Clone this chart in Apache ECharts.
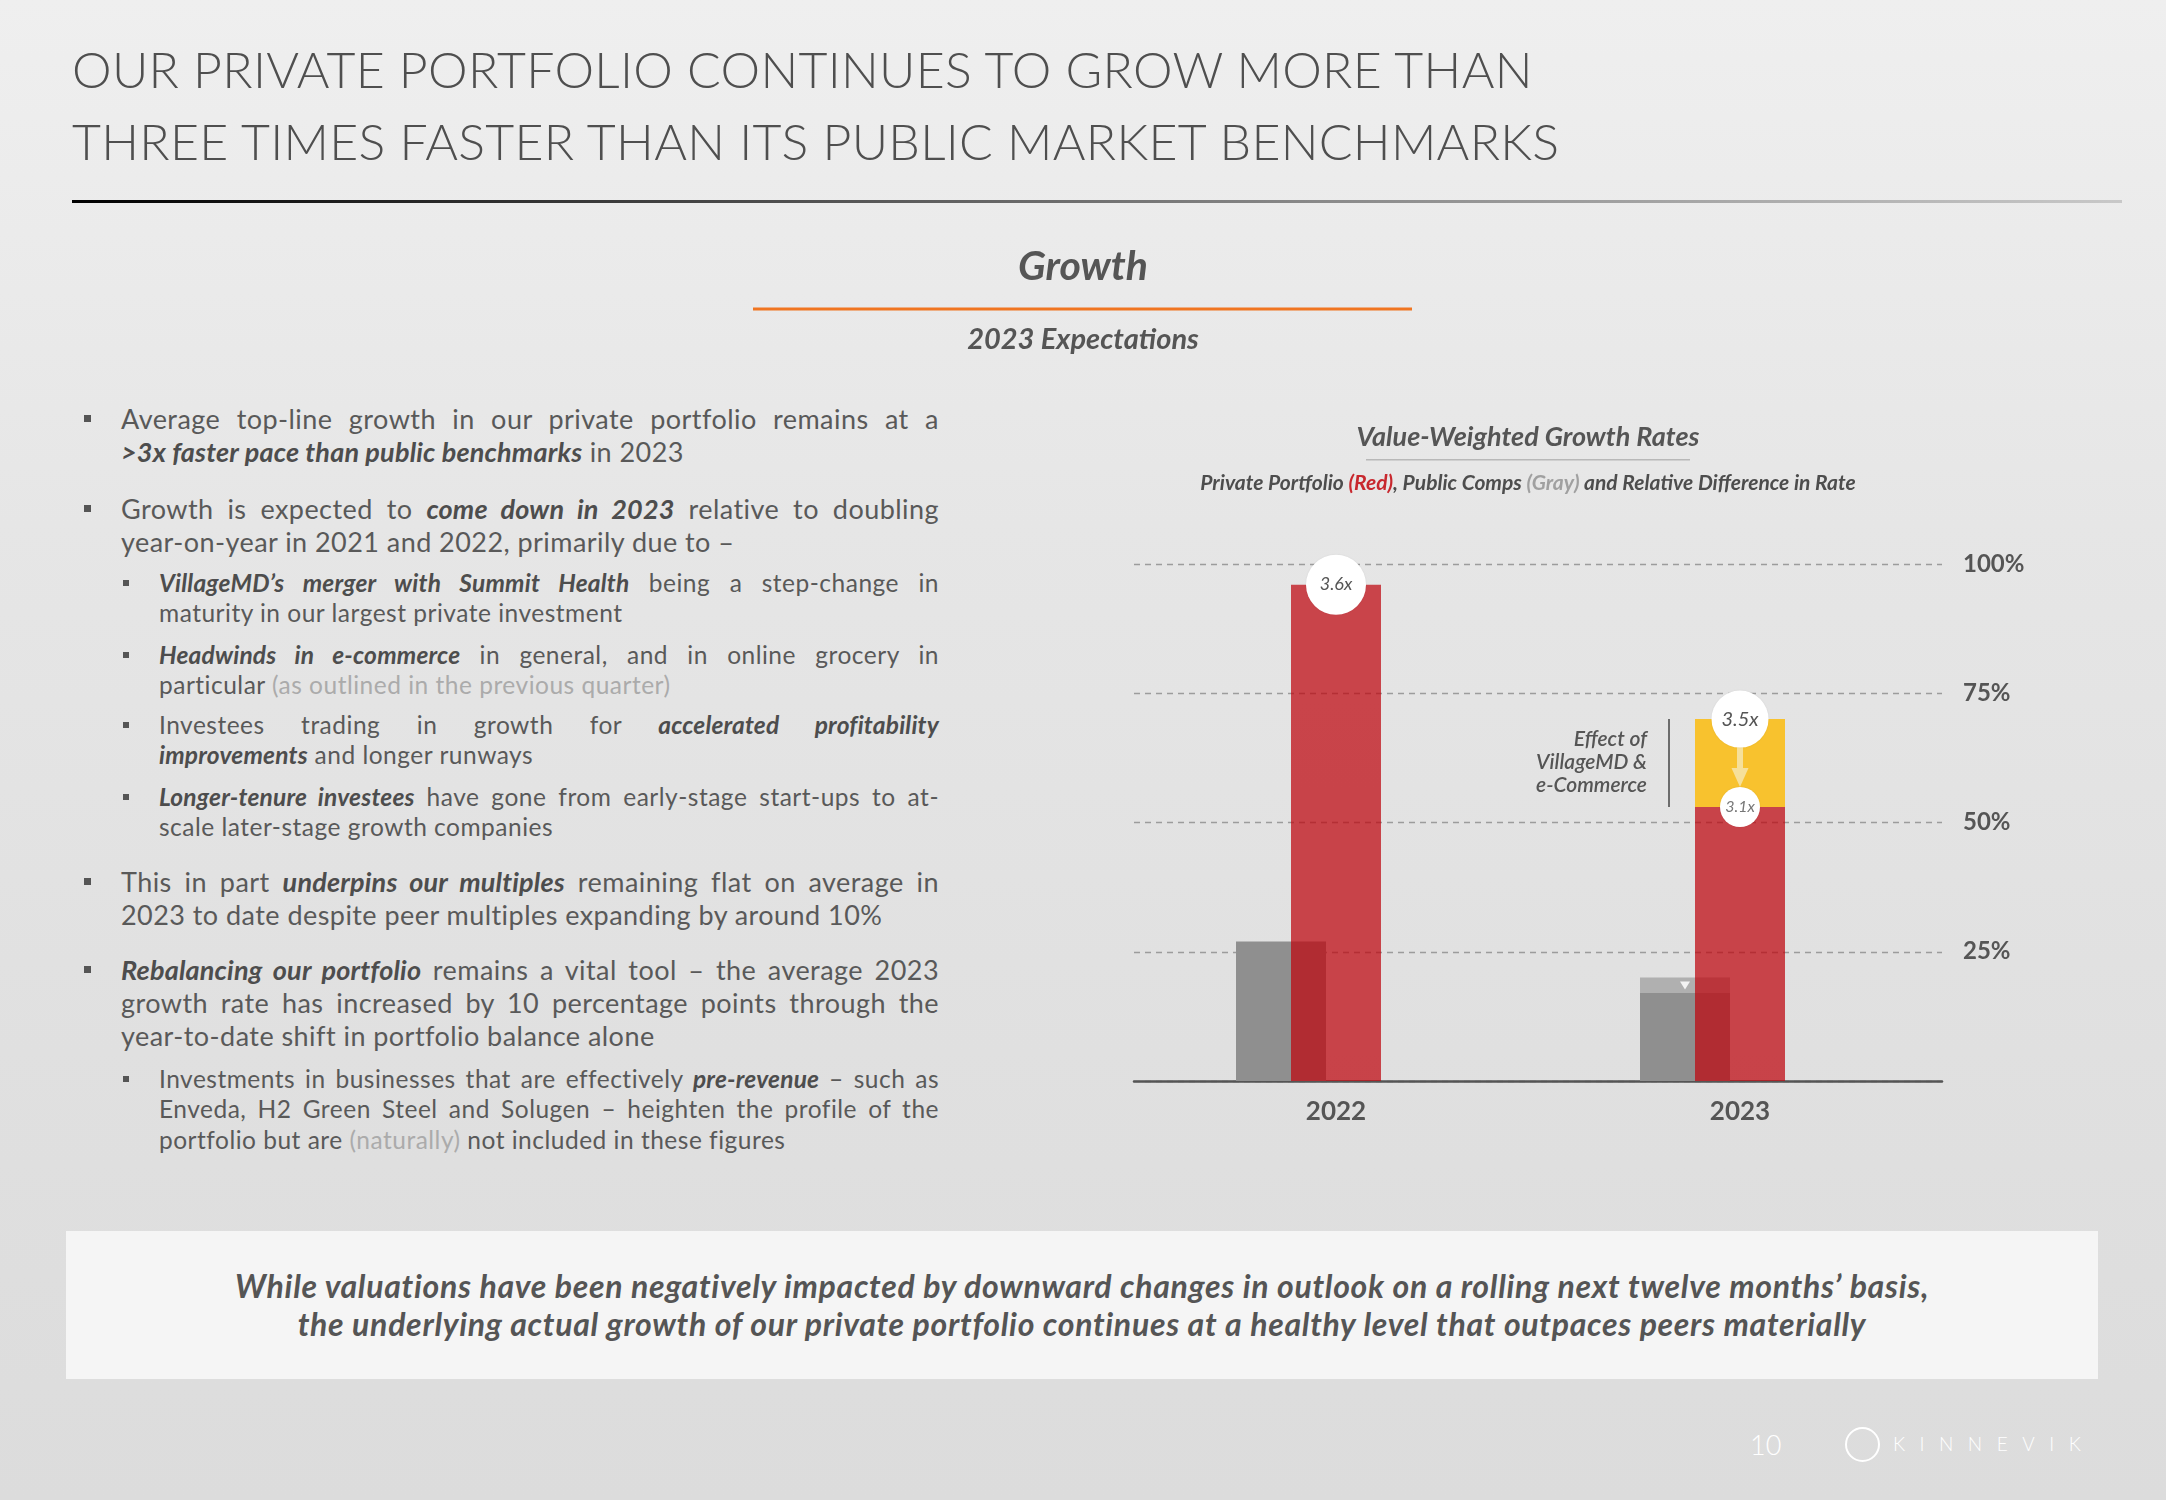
<!DOCTYPE html>
<html><head><meta charset="utf-8">
<script src="https://cdn.jsdelivr.net/npm/echarts@6/dist/echarts.min.js"></script>
<style>
html,body{margin:0;padding:0;}
body{width:2166px;height:1500px;position:relative;overflow:hidden;font-family:Lato,'Noto Sans',sans-serif;color:#595959;
background:linear-gradient(180deg,#efefef 0%,#e6e6e6 35%,#e0e0e0 70%,#dcdcdc 100%);}
#chart{position:absolute;left:0;top:0;width:2166px;height:1500px;}
.title{position:absolute;left:72px;top:33px;font-size:50px;line-height:72px;font-weight:300;color:#4f4f4f;white-space:nowrap;letter-spacing:0.3px;}
.rule{position:absolute;left:72px;top:200px;width:2050px;height:3px;background:linear-gradient(90deg,#000 0%,#444 30%,#888 60%,#c8c8c8 100%);}
.para{position:absolute;width:818px;}
.main{left:121px;font-size:27px;line-height:33px;letter-spacing:0.45px;}
.sub{left:159px;width:780px;font-size:24.5px;line-height:30.4px;letter-spacing:0.5px;}
.para .l{display:block;white-space:nowrap;text-align:justify;text-align-last:justify;}
.para .l.last{text-align-last:left;}
.para b{font-style:italic;font-weight:700;color:#4d4d4d;letter-spacing:0.2px;}
.para .lt{color:#ababab;}
.mk{position:absolute;width:7px;height:7px;background:#555;}
.box{position:absolute;left:66px;top:1231px;width:2032px;height:148px;background:rgba(246,246,246,0.92);}
.boxtxt{position:absolute;left:66px;width:2032px;text-align:center;font-size:32px;font-weight:700;font-style:italic;color:#555;line-height:38px;top:1267px;letter-spacing:0.7px;white-space:nowrap;}
.pg{position:absolute;left:1750px;top:1428px;font-size:27px;color:#fff;font-weight:300;}
.logo{position:absolute;left:1893px;top:1432px;font-size:19px;letter-spacing:14.5px;color:#fff;font-weight:300;}
.emb{position:absolute;left:1845px;top:1427px;width:31px;height:31px;border:2px solid #fff;border-radius:50%;}
</style></head>
<body>
<div class="title">OUR PRIVATE PORTFOLIO CONTINUES TO GROW MORE THAN<br>THREE TIMES FASTER THAN ITS PUBLIC MARKET BENCHMARKS</div>
<div class="rule"></div>

<div class="mk" style="left:84px;top:415px"></div>
<div class="para main" style="top:402px">
<span class="l">Average top-line growth in our private portfolio remains at a</span>
<span class="l last"><b>&gt;3x faster pace than public benchmarks</b> in 2023</span>
</div>

<div class="mk" style="left:84px;top:505px"></div>
<div class="para main" style="top:492px">
<span class="l">Growth is expected to <b>come down in 2023</b> relative to doubling</span>
<span class="l last">year-on-year in 2021 and 2022, primarily due to –</span>
</div>

<div class="mk" style="left:123px;top:580px;width:6px;height:6px"></div>
<div class="para sub" style="top:568px">
<span class="l"><b>VillageMD’s merger with Summit Health</b> being a step-change in</span>
<span class="l last">maturity in our largest private investment</span>
</div>

<div class="mk" style="left:123px;top:652px;width:6px;height:6px"></div>
<div class="para sub" style="top:640px">
<span class="l"><b>Headwinds in e-commerce</b> in general, and in online grocery in</span>
<span class="l last">particular <span class="lt">(as outlined in the previous quarter)</span></span>
</div>

<div class="mk" style="left:123px;top:722px;width:6px;height:6px"></div>
<div class="para sub" style="top:710px">
<span class="l">Investees trading in growth for <b>accelerated profitability</b></span>
<span class="l last"><b>improvements</b> and longer runways</span>
</div>

<div class="mk" style="left:123px;top:794px;width:6px;height:6px"></div>
<div class="para sub" style="top:782px">
<span class="l"><b>Longer-tenure investees</b> have gone from early-stage start-ups to at-</span>
<span class="l last">scale later-stage growth companies</span>
</div>

<div class="mk" style="left:84px;top:878px"></div>
<div class="para main" style="top:865px">
<span class="l">This in part <b>underpins our multiples</b> remaining flat on average in</span>
<span class="l last">2023 to date despite peer multiples expanding by around 10%</span>
</div>

<div class="mk" style="left:84px;top:966px"></div>
<div class="para main" style="top:953px">
<span class="l"><b>Rebalancing our portfolio</b> remains a vital tool – the average 2023</span>
<span class="l">growth rate has increased by 10 percentage points through the</span>
<span class="l last">year-to-date shift in portfolio balance alone</span>
</div>

<div class="mk" style="left:123px;top:1076px;width:6px;height:6px"></div>
<div class="para sub" style="top:1064px">
<span class="l">Investments in businesses that are effectively <b>pre-revenue</b> – such as</span>
<span class="l">Enveda, H2 Green Steel and Solugen – heighten the profile of the</span>
<span class="l last">portfolio but are <span class="lt">(naturally)</span> not included in these figures</span>
</div>

<div class="box"></div>
<div class="boxtxt">While valuations have been negatively impacted by downward changes in outlook on a rolling next twelve months’ basis,<br>the underlying actual growth of our private portfolio continues at a healthy level that outpaces peers materially</div>
<div class="pg">10</div>
<div class="emb"></div>
<div class="logo">KINNEVIK</div>

<div id="chart"></div>
<script>
// ---- data ----
const categories = ['2022', '2023'];
const privateGrowth = [96, 53];        // red: private portfolio growth (%)
const villageEffect = [0, 17];         // yellow: effect of VillageMD & e-Commerce (stacked on red)
const publicGrowth = [27, 17];         // dark gray: public comps growth (%)
const publicAdjust = [0, 3];           // light gray band on top of public comps
const multipleLabels = ['3.6x', '3.5x', '3.1x'];
const yTickValues = [0, 25, 50, 75, 100];

// ---- layout constants ----
const BAR_W = 90;
const BAR_GAP = -0.3889;                  // gray bar shifted left, overlapping red
const GRAY_SHIFT = BAR_W * (1 + BAR_GAP); // px offset of gray bar centre

const chart = echarts.init(document.getElementById('chart'), null, {renderer: 'canvas'});

const top2022 = privateGrowth[0] + villageEffect[0];
const top2023 = privateGrowth[1] + villageEffect[1];
const circleData = [
  {value: [0, top2022], symbolSize: 60, label: {formatter: multipleLabels[0], fontSize: 18}},
  {value: [1, top2023], symbolSize: 57, label: {formatter: multipleLabels[1], fontSize: 20}},
  {value: [1, privateGrowth[1]], symbolSize: 40, label: {formatter: multipleLabels[2], fontSize: 16, color: '#777'}}
];

const font = 'Lato';
const option = {
  backgroundColor: 'transparent',
  textStyle: {fontFamily: font},
  animation: false,
  grid: {left: 1134, right: 224, top: 564, bottom: 419, containLabel: false},
  xAxis: {
    type: 'category', data: categories,
    axisLine: {lineStyle: {color: '#555', width: 2.5}},
    axisTick: {show: false},
    axisLabel: {fontSize: 26, fontWeight: 'bold', color: '#555', margin: 18, fontFamily: font}
  },
  yAxis: {
    type: 'value', position: 'right', min: yTickValues[0], max: yTickValues[yTickValues.length - 1], interval: 25,
    axisLine: {show: false}, axisTick: {show: false},
    splitLine: {lineStyle: {color: '#9c9c9c', type: [6, 5], width: 1.3}},
    axisLabel: {formatter: v => v === 0 ? '' : v + '%', fontSize: 24, fontWeight: 'bold', color: '#555', margin: 21, align: 'left', fontFamily: font}
  },
  graphic: [
    {type: 'text', style: {text: 'Growth', x: 1083, y: 267, align: 'center', verticalAlign: 'middle', font: 'italic bold 41px Lato', fill: '#555'}},
    {type: 'rect', shape: {x: 753, y: 307.5, width: 659, height: 3}, style: {fill: '#f07521'}},
    {type: 'text', style: {text: '2023 Expectations', x: 1083, y: 340, align: 'center', verticalAlign: 'middle', font: 'italic bold 29px Lato', fill: '#555'}},
    {type: 'text', style: {text: 'Value-Weighted Growth Rates', x: 1528, y: 437, align: 'center', verticalAlign: 'middle', font: 'italic bold 27px Lato', fill: '#555'}},
    {type: 'rect', shape: {x: 1366, y: 459, width: 324, height: 1.5}, style: {fill: '#b8b8b8'}},
    {type: 'text', style: {
      x: 1528, y: 483, align: 'center', verticalAlign: 'middle',
      text: '{a|Private Portfolio }{r|(Red)}{a|, Public Comps }{g|(Gray)}{a| and Relative Difference in Rate}',
      rich: {
        a: {font: 'italic bold 21px Lato', fill: '#4d4d4d'},
        r: {font: 'italic bold 21px Lato', fill: '#c8282e'},
        g: {font: 'italic bold 21px Lato', fill: '#a0a0a0'}
      }
    }}
  ],
  series: [
    {name: 'Public comps', type: 'bar', stack: 'gray', data: publicGrowth, barWidth: BAR_W, barGap: (BAR_GAP * 100) + '%',
      itemStyle: {color: '#8f8f8f'}, z: 2},
    {name: 'Public comps adj', type: 'bar', stack: 'gray', data: publicAdjust, barWidth: BAR_W, barGap: (BAR_GAP * 100) + '%',
      itemStyle: {color: '#b0b0b0'}, z: 2},
    {name: 'Private portfolio', type: 'bar', stack: 'red', data: privateGrowth, barWidth: BAR_W, barGap: (BAR_GAP * 100) + '%',
      itemStyle: {color: 'rgba(190,6,14,0.72)'}, z: 3},
    {name: 'VillageMD effect', type: 'bar', stack: 'red', data: villageEffect, barWidth: BAR_W, barGap: (BAR_GAP * 100) + '%',
      itemStyle: {color: '#f8c22e'}, z: 3},
    {name: 'spacer', type: 'bar', stack: 'spacer', data: [null, null], barWidth: BAR_W, barGap: (BAR_GAP * 100) + '%',
      itemStyle: {color: 'rgba(0,0,0,0)'}, silent: true},
    {name: 'annotation', type: 'custom', z: 5, silent: true,
      data: [[1, top2023, privateGrowth[1], publicGrowth[1] + publicAdjust[1]]],
      renderItem: function (params, api) {
        const pTop = api.coord([api.value(0), api.value(1)]);
        const pBot = api.coord([api.value(0), api.value(2)]);
        const pGray = api.coord([api.value(0), api.value(3)]);
        const x = pTop[0];
        const y1 = pTop[1] + 28, y2 = pBot[1] - 20;
        const ac = '#f6e09a';
        const gx = x - GRAY_SHIFT;
        return {type: 'group', children: [
          {type: 'line', shape: {x1: x, y1: y1, x2: x, y2: y2 - 18}, style: {stroke: ac, lineWidth: 6}},
          {type: 'polygon', shape: {points: [[x - 8.5, y2 - 19], [x + 8.5, y2 - 19], [x, y2]]}, style: {fill: ac}},
          {type: 'line', shape: {x1: x - 71, y1: pTop[1], x2: x - 71, y2: pBot[1]}, style: {stroke: '#444', lineWidth: 1.5}},
          {type: 'text', style: {text: 'Effect of\nVillageMD &\ne-Commerce', x: x - 93, y: (pTop[1] + pBot[1]) / 2 - 1,
            align: 'right', verticalAlign: 'middle', font: 'italic 600 21px Lato', lineHeight: 23, fill: '#555'}},
          {type: 'polygon', shape: {points: [[gx - 5, pGray[1] + 4], [gx + 5, pGray[1] + 4], [gx, pGray[1] + 12]]}, style: {fill: 'rgba(255,255,255,0.85)'}}
        ]};
      }
    },
    {name: 'multiples', type: 'scatter', z: 6, silent: true, symbol: 'circle',
      itemStyle: {color: '#ffffff', opacity: 1, shadowBlur: 2, shadowColor: 'rgba(0,0,0,0.08)'},
      label: {show: true, position: 'inside', fontStyle: 'italic', color: '#555', fontFamily: font},
      data: circleData
    }
  ]
};
chart.setOption(option);
</script>
</body></html>
